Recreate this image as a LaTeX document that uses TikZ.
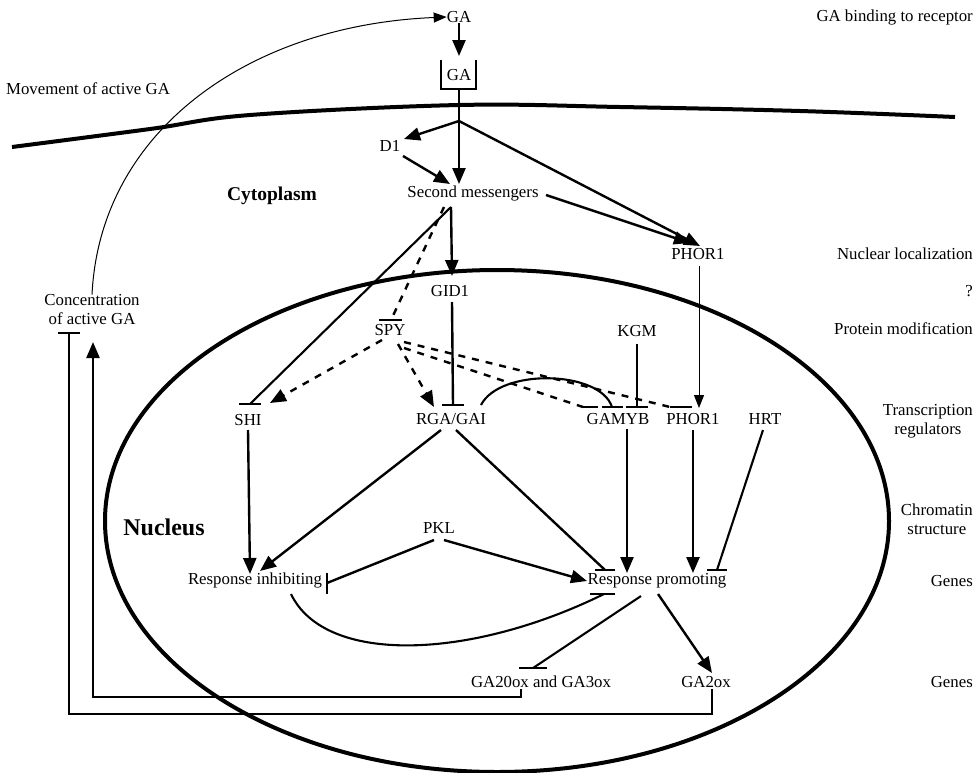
\documentclass[tikz,border=0pt]{standalone}
\usepackage{fontspec}
\setmainfont{Liberation Serif}
\usetikzlibrary{arrows.meta,calc}
\begin{document}
\begin{tikzpicture}[x=1pt,y=-1pt,
 lbl/.style={font=\fontsize{16.8}{19}\selectfont, inner sep=0pt},
 rlbl/.style={font=\fontsize{16.8}{18.5}\selectfont, inner sep=0pt, anchor=east, align=center},
 big/.style={font=\fontsize{21}{24}\selectfont\bfseries, inner sep=0pt},
 thk/.style={line width=2.4pt},
 med/.style={line width=2.1pt},
 thn/.style={line width=1pt},
 arr/.style={-{Triangle[length=16pt,width=13pt]}},
 arrthin/.style={-{Triangle[length=13pt,width=10pt]}},
 dsh/.style={line width=2.4pt, dash pattern=on 7pt off 7pt},
 tbar/.style={line width=2.7pt},
 wall/.style={line width=4pt},
]
\useasboundingbox (0,0) rectangle (975,772);

% membranes
\draw[wall] plot[smooth, tension=0.6] coordinates {(12,147) (150,129) (250,115) (459,105) (620,107) (800,111) (955,117)};
\draw[wall] (497,521) ellipse [x radius=392pt, y radius=251pt];

% labels
\node[lbl] (gatop) at (459,17) {GA};
\node[lbl] (garec) at (459,75) {GA};
\node[lbl] (move) at (88,89) {Movement of active GA};
\node[lbl] (d1) at (390,146) {D1};
\node[lbl] (sm) at (473,193) {Second messengers};
\node[big, font=\fontsize{19.5}{22}\selectfont\bfseries] (cyto) at (272,196) {Cytoplasm};
\node[big, font=\fontsize{24}{27}\selectfont\bfseries] (nuc) at (164,527) {Nucleus};
\node[lbl] (phorc) at (698,254) {PHOR1};
\node[lbl] (gid) at (450,291) {GID1};
\node[lbl, align=center] (conc) at (92,310) {Concentration\\of active GA};
\node[lbl] (spy) at (390,330) {SPY};
\node[lbl] (kgm) at (637,331) {KGM};
\node[lbl] (shi) at (248,420) {SHI};
\node[lbl] (rga) at (451,419) {RGA/GAI};
\node[lbl] (gamyb) at (618,419) {GAMYB};
\node[lbl] (phorn) at (693,419) {PHOR1};
\node[lbl] (hrt) at (765,419) {HRT};
\node[lbl] (pkl) at (439,528) {PKL};
\node[lbl] (rinh) at (255,580) {Response inhibiting};
\node[lbl] (rpro) at (657,581) {Response promoting};
\node[lbl] (ga20) at (541,682) {GA20ox and GA3ox};
\node[lbl] (ga2) at (706,682) {GA2ox};

\node[rlbl] (l1) at (973,17) {GA binding to receptor};
\node[rlbl] (l2) at (973,254) {Nuclear localization};
\node[rlbl] (l3) at (973,291) {?};
\node[rlbl] (l4) at (973,329) {Protein modification};
\node[rlbl] (l5) at (973,421) {Transcription\\regulators};
\node[rlbl] (l6) at (973,519) {Chromatin\\structure};
\node[rlbl] (l7) at (973,581) {Genes};
\node[rlbl] (l8) at (973,682) {Genes};

% coordinates
\coordinate (cuptop) at (459,56);
\coordinate (jn) at (459,121);
\coordinate (d1in) at (404,139);
\coordinate (d1out) at (403,156);
\coordinate (smtop) at (459,184);
\coordinate (smd1) at (450,184);
\coordinate (smr) at (546,195);
\coordinate (phorin1) at (700,246);
\coordinate (phorin2) at (690,243);
\coordinate (apex) at (451,207);
\coordinate (gidin) at (452,276);
\coordinate (shibar) at (250,404);
\coordinate (spybar) at (391,320);
\coordinate (gidout) at (452,302);
\coordinate (rgabar) at (453,405);
\coordinate (spyl) at (382,340);
\coordinate (spym) at (398,344);
\coordinate (spyr1) at (404,342);
\coordinate (spyr2) at (404,348);
\coordinate (shiin) at (270,403);
\coordinate (rgain) at (434,407);
\coordinate (phorbar) at (670,407);
\coordinate (gamybbar1) at (583,407);
\coordinate (gamybbar2) at (612,407);
\coordinate (kgmout) at (637,344);
\coordinate (kgmbar) at (637,407);
\coordinate (rgaarc) at (481,405);
\coordinate (phorcout) at (699,266);
\coordinate (phornin) at (699,408);

% receptor
\draw[thk] (441,60) -- (441,89) -- (476,89) -- (476,60);
\draw[thk] (garec.south |- 0,89) -- (jn);
\draw[thk,arr] (gatop.south) -- (cuptop);

% movement of GA
\draw[thn,arrthin] (conc.north) .. controls (100,130) and (250,25) .. (gatop.west);

% cytoplasm connectors
\draw[thk,arr] (jn) -- (d1in);
\draw[thk,arr] (jn) -- (smtop);
\draw[thk,arr] (d1out) -- (smd1);
\draw[thk,arr] (jn) -- (phorin1);
\draw[thk,arr] (smr) -- (phorin2);
\draw[thk,arr] (apex) -- (gidin);
\draw[med] (apex) -- (shibar);
\draw[tbar] ([xshift=-11]shibar) -- ([xshift=11]shibar);
\draw[dsh] ([xshift=-7]apex) -- (spybar);
\draw[tbar] ([xshift=-12]spybar) -- ([xshift=11]spybar);
\draw[thn,arrthin] (phorcout) -- (phornin);

% nucleus upper
\draw[thk] (gidout) -- (rgabar);
\draw[tbar] ([xshift=-11]rgabar) -- ([xshift=11]rgabar);
\draw[dsh,arr] (spyl) -- (shiin);
\draw[dsh,arr] (spym) -- (rgain);
\draw[dsh] (spyr1) -- (phorbar);
\draw[tbar] (phorbar) -- ([xshift=22]phorbar);
\draw[dsh] (spyr2) -- (gamybbar1);
\draw[tbar] (gamybbar1) -- ([xshift=15]gamybbar1);
\draw[thk] (kgmout) -- (kgmbar);
\draw[tbar] ([xshift=-11]kgmbar) -- ([xshift=11]kgmbar);
\draw[med] (rgaarc) .. controls (500,368) and (600,370) .. (gamybbar2);
\draw[tbar] ([xshift=-10]gamybbar2) -- ([xshift=11]gamybbar2);

% nucleus lower
\coordinate (rinhin1) at (250,574);
\coordinate (rinhin2) at (260,571);
\coordinate (rprobar1) at (605,570);
\coordinate (rproin1) at (627,573);
\coordinate (rproin2) at (693,573);
\coordinate (hrtbar) at (717,570);
\coordinate (pklbar) at (327,583);
\coordinate (rproin3) at (587,581);
\coordinate (rinhcurve) at (291,594);
\coordinate (rprobar2) at (604,594);
\coordinate (rproout1) at (641,596);
\coordinate (ga20bar) at (533,668);
\coordinate (rproout2) at (658,594);
\coordinate (ga2in) at (712,673);

\draw[thk,arr] (248,430) -- (rinhin1);
\draw[thk,arr] (441,430) -- (rinhin2);
\draw[thk] (456,430) -- (rprobar1);
\draw[tbar] ([xshift=-10]rprobar1) -- ([xshift=10]rprobar1);
\draw[thk,arr] (627,429) -- (rproin1);
\draw[thk,arr] (693,430) -- (rproin2);
\draw[med] (763,430) -- (hrtbar);
\draw[tbar] ([xshift=-10]hrtbar) -- ([xshift=10]hrtbar);
\draw[thk] (434,540) -- (pklbar);
\draw[tbar] ([yshift=-11]pklbar) -- ([yshift=10]pklbar);
\draw[thk,arr] (444,540) -- (rproin3);
\draw[med] (rinhcurve) .. controls (325,665) and (470,660) .. (rprobar2);
\draw[tbar] ([xshift=-14]rprobar2) -- ([xshift=11]rprobar2);
\draw[med] (rproout1) -- (ga20bar);
\draw[tbar] ([xshift=-14]ga20bar) -- ([xshift=14]ga20bar);
\draw[thk,arr] (rproout2) -- (ga2in);

% feedback loops
\coordinate (concin) at (93,342);
\coordinate (concbar) at (69,333);
\draw[thk,arr] (521,689) -- (521,697) -- (93,697) -- (concin);
\draw[thk] (712,689) -- (712,714) -- (69,714) -- (concbar);
\draw[tbar] ([xshift=-11]concbar) -- ([xshift=11]concbar);
\end{tikzpicture}
\end{document}
